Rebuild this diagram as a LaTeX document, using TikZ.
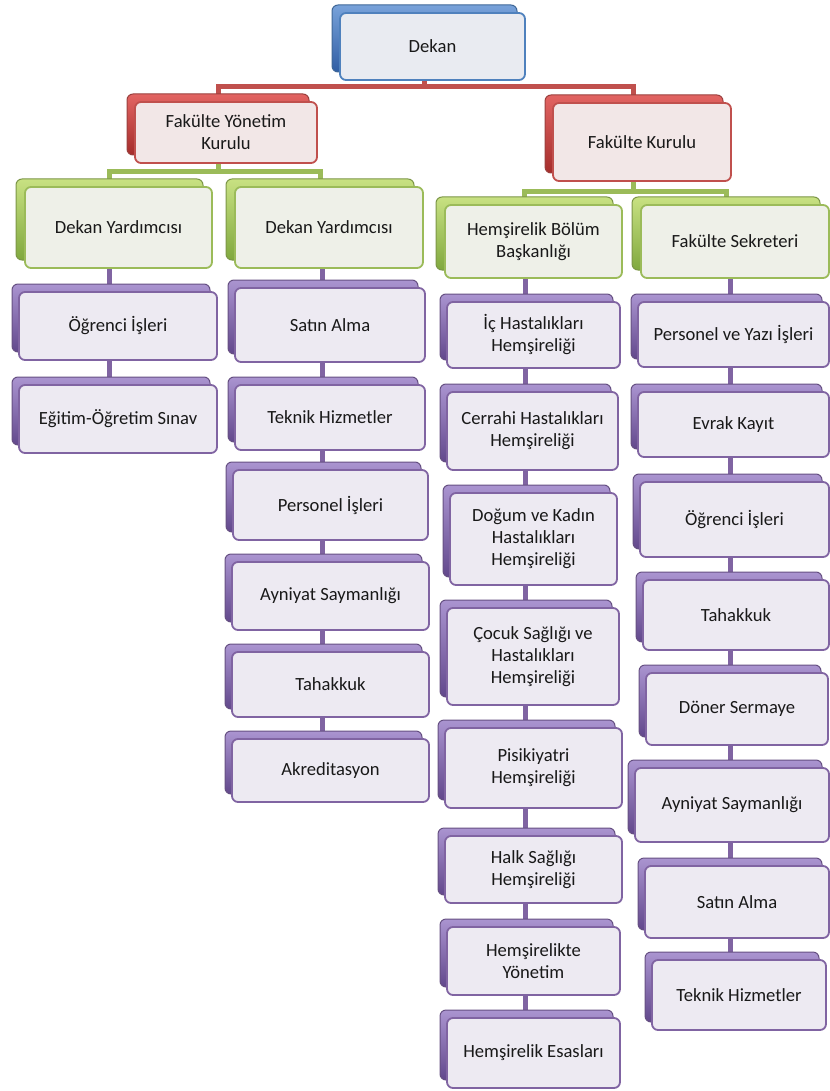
\documentclass[tikz,border=0pt]{standalone}
\usepackage{fontspec}
\setmainfont{Carlito}
\usepackage{tikz}
\usetikzlibrary{shadows,backgrounds}

\definecolor{dekanmavi}{HTML}{4F81BD}
\definecolor{kurulkirmizi}{HTML}{C0504D}
\definecolor{yardyesil}{HTML}{9BBB59}
\definecolor{birimmor}{HTML}{8064A2}

\tikzset{
  kutu/.style={rounded corners=6pt, line width=1.8pt, inner sep=2pt, align=center,
    text=black!90, font=\fontsize{18.6pt}{22pt}\selectfont},
  boyut/.style 2 args={minimum width=#1pt, minimum height=#2pt},
  mavikutu/.style={kutu, draw=dekanmavi, fill={rgb,255:red,233;green,235;blue,241},
    general shadow={shadow xshift=-8pt, shadow yshift=8pt, draw=dekanmavi!80!black,
      line width=1pt, top color={rgb,255:red,120;green,162;blue,218},
      bottom color={rgb,255:red,48;green,94;blue,164}}},
  kirmizikutu/.style={kutu, draw=kurulkirmizi, fill={rgb,255:red,242;green,231;blue,231},
    general shadow={shadow xshift=-8pt, shadow yshift=8pt, draw=kurulkirmizi!80!black,
      line width=1pt, top color={rgb,255:red,226;green,100;blue,98},
      bottom color={rgb,255:red,165;green,45;blue,43}}},
  yesilkutu/.style={kutu, draw=yardyesil, fill={rgb,255:red,238;green,240;blue,232},
    general shadow={shadow xshift=-9pt, shadow yshift=8pt, draw=yardyesil!80!black,
      line width=1pt, top color={rgb,255:red,200;green,225;blue,130},
      bottom color={rgb,255:red,128;green,168;blue,62}}},
  morkutu/.style={kutu, draw=birimmor, fill={rgb,255:red,237;green,234;blue,242},
    general shadow={shadow xshift=-7pt, shadow yshift=8pt, draw=birimmor!80!black,
      line width=1pt, top color={rgb,255:red,170;green,148;blue,208},
      bottom color={rgb,255:red,98;green,72;blue,140}}},
  cizgi/.style={line width=5pt},
}

\begin{document}
\begin{tikzpicture}[x=1pt,y=-1pt]
  \useasboundingbox (0,0) rectangle (829,1091);

  \node (dekan) at (432.5,46.5) [mavikutu,boyut={185}{67}] {Dekan};

  \node (fyk) at (226,132.5) [kirmizikutu,boyut={182}{61}] {Fakülte Yönetim\\Kurulu};
  \node (fk) at (642,142) [kirmizikutu,boyut={178}{78}] {Fakülte Kurulu};

  \node (dy1) at (118.5,227.5) [yesilkutu,boyut={187}{81}] {Dekan Yardımcısı};
  \node (dy2) at (329,227.5) [yesilkutu,boyut={188}{81}] {Dekan Yardımcısı};
  \node (hbb) at (533.5,241.5) [yesilkutu,boyut={177}{73}] {Hemşirelik Bölüm\\Başkanlığı};
  \node (fs) at (735,241.5) [yesilkutu,boyut={188}{73}] {Fakülte Sekreteri};

  % ilk sutun
  \node (ogr1) at (118,326) [morkutu,boyut={198}{68}] {Öğrenci İşleri};
  \node (egt) at (118,419) [morkutu,boyut={198}{68}] {Eğitim-Öğretim Sınav};

  % ikinci sutun
  \node (satin1) at (330,325) [morkutu,boyut={190}{74}] {Satın Alma};
  \node (teknik1) at (330,417.5) [morkutu,boyut={190}{65}] {Teknik Hizmetler};
  \node (personel) at (330.5,505) [morkutu,boyut={195}{70}] {Personel İşleri};
  \node (ayniyat1) at (330.5,596) [morkutu,boyut={197}{68}] {Ayniyat Saymanlığı};
  \node (tahakkuk1) at (330.5,684.5) [morkutu,boyut={197}{65}] {Tahakkuk};
  \node (akredit) at (330.5,770.5) [morkutu,boyut={197}{63}] {Akreditasyon};

  % ucuncu sutun
  \node (ichast) at (533.5,335) [morkutu,boyut={173}{66}] {İç Hastalıkları\\Hemşireliği};
  \node (cerrahi) at (532.5,431) [morkutu,boyut={171}{78}] {Cerrahi Hastalıkları\\Hemşireliği};
  \node (dogum) at (533.5,539) [morkutu,boyut={167}{92}] {Doğum ve Kadın\\Hastalıkları\\Hemşireliği};
  \node (cocuk) at (533,656.5) [morkutu,boyut={172}{97}] {Çocuk Sağlığı ve\\Hastalıkları\\Hemşireliği};
  \node (pisik) at (533.5,768) [morkutu,boyut={177}{80}] {Pisikiyatri\\Hemşireliği};
  \node (halk) at (533.5,869.5) [morkutu,boyut={177}{67}] {Halk Sağlığı\\Hemşireliği};
  \node (yonetim) at (533.5,961) [morkutu,boyut={173}{68}] {Hemşirelikte\\Yönetim};
  \node (esas) at (533.5,1053) [morkutu,boyut={173}{70}] {Hemşirelik Esasları};

  % dorduncu sutun
  \node (yazi) at (733.5,334.5) [morkutu,boyut={191}{65}] {Personel ve Yazı İşleri};
  \node (evrak) at (733.5,424.5) [morkutu,boyut={191}{65}] {Evrak Kayıt};
  \node (ogr2) at (734.5,519.5) [morkutu,boyut={189}{75}] {Öğrenci İşleri};
  \node (tahakkuk2) at (736,615) [morkutu,boyut={186}{70}] {Tahakkuk};
  \node (doner) at (737,709) [morkutu,boyut={182}{72}] {Döner Sermaye};
  \node (ayniyat2) at (732,805) [morkutu,boyut={194}{74}] {Ayniyat Saymanlığı};
  \node (satin2) at (737,902) [morkutu,boyut={184}{72}] {Satın Alma};
  \node (teknik2) at (739,995) [morkutu,boyut={174}{70}] {Teknik Hizmetler};

  \begin{scope}[on background layer]
    \coordinate (kirmiziyol) at (424.5,87);
    \draw[cizgi,kurulkirmizi] ([xshift=-8pt]dekan.center) -- (kirmiziyol);
    \draw[cizgi,kurulkirmizi] ([xshift=-8pt]fyk.center) |- (kirmiziyol) -| ([xshift=-9pt]fk.center);

    \coordinate (yesilyol1) at (218,172);
    \draw[cizgi,yardyesil] ([xshift=-8pt]fyk.center) -- (yesilyol1);
    \draw[cizgi,yardyesil] ([xshift=-9pt]dy1.center) |- (yesilyol1) -| ([xshift=-9pt]dy2.center);

    \coordinate (yesilyol2) at (633,192);
    \draw[cizgi,yardyesil] ([xshift=-9pt]fk.center) -- (yesilyol2);
    \draw[cizgi,yardyesil] ([xshift=-9pt]hbb.center) |- (yesilyol2) -| ([xshift=-9pt]fs.center);

    \coordinate (sutunA) at ([xshift=-9pt]dy1.center);
    \coordinate (sutunB) at ([xshift=-7pt]dy2.center);
    \coordinate (sutunC) at ([xshift=-8pt]hbb.center);
    \coordinate (sutunD) at ([xshift=-5pt]fs.center);
    \foreach \c in {ogr1,egt}
      \draw[cizgi,birimmor] (sutunA) -- (sutunA |- \c.center);
    \foreach \c in {satin1,teknik1,personel,ayniyat1,tahakkuk1,akredit}
      \draw[cizgi,birimmor] (sutunB) -- (sutunB |- \c.center);
    \foreach \c in {ichast,cerrahi,dogum,cocuk,pisik,halk,yonetim,esas}
      \draw[cizgi,birimmor] (sutunC) -- (sutunC |- \c.center);
    \foreach \c in {yazi,evrak,ogr2,tahakkuk2,doner,ayniyat2,satin2,teknik2}
      \draw[cizgi,birimmor] (sutunD) -- (sutunD |- \c.center);
  \end{scope}
\end{tikzpicture}
\end{document}
